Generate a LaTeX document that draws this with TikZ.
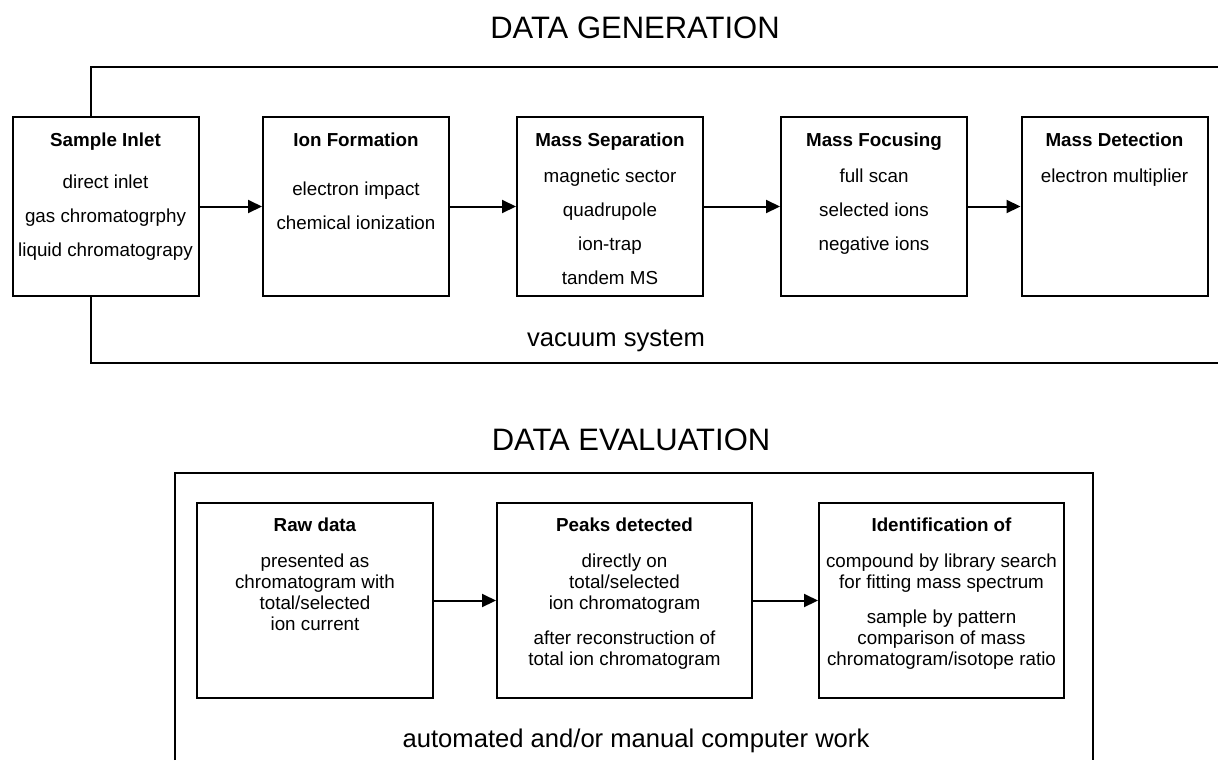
\documentclass[tikz,border=0pt]{standalone}
\usepackage{fontspec}
\setmainfont{Liberation Sans}
\usetikzlibrary{arrows.meta,positioning}

\begin{document}
\begin{tikzpicture}[x=0.5pt,y=-0.5pt,
  stage/.style={draw,line width=1pt,minimum width=93pt,minimum height=89.5pt,inner sep=0pt},
  stagetxt/.style={anchor=north,align=center,inner sep=0pt,font=\fontsize{9.4}{17}\selectfont},
  evalbox/.style={draw,line width=1pt,minimum height=97.5pt,inner sep=0pt},
  evaltxt/.style={anchor=north,align=center,inner sep=0pt,font=\fontsize{9.4}{10.5}\selectfont},
  flow/.style={-{Triangle[length=7pt,width=6.5pt]},line width=1pt}]
\useasboundingbox (0,0) rectangle (1218,760);
% data generation
\node[anchor=base,font=\fontsize{15.5}{18}\selectfont] (gen) at (635,38) {DATA GENERATION};
\node[stage] (inlet) at (105.5,206.5) {};
\node[stage] (ion) at (356,206.5) {};
\node[stage] (sep) at (610,206.5) {};
\node[stage] (focus) at (874,206.5) {};
\node[stage] (detect) at (1114.5,206.5) {};
\node[stagetxt] (inlet-txt) at ([yshift=-8pt]inlet.north) {\textbf{Sample Inlet}\\[4pt] direct inlet\\ gas chromatogrphy\\ liquid chromatograpy};
\node[stagetxt] (ion-txt) at ([yshift=-8pt]ion.north) {\textbf{Ion Formation}\\[7.5pt] electron impact\\ chemical ionization};
\node[stagetxt] (sep-txt) at ([yshift=-8pt]sep.north) {\textbf{Mass Separation}\\[1pt] magnetic sector\\ quadrupole\\ ion-trap\\ tandem MS};
\node[stagetxt] (focus-txt) at ([yshift=-8pt]focus.north) {\textbf{Mass Focusing}\\[1pt] full scan\\ selected ions\\ negative ions};
\node[stagetxt] (detect-txt) at ([yshift=-8pt]detect.north) {\textbf{Mass Detection}\\[1pt] electron multiplier};
\draw[flow] (inlet) -- (ion);
\draw[flow] (ion) -- (sep);
\draw[flow] (sep) -- (focus);
\draw[flow] (focus) -- (detect);
% vacuum system
\draw[line width=1pt] (91,117) |- (1218,67);
\draw[line width=1pt] (91,296) |- (1218,363);
\node[anchor=base,font=\fontsize{12.8}{15}\selectfont] (vac) at (616,346) {vacuum system};
% data evaluation
\node[anchor=base,font=\fontsize{15.5}{18}\selectfont] (eval) at (631,450) {DATA EVALUATION};
\draw[line width=1pt] (175,760) |- (1093,473) -- (1093,760);
\node[evalbox,minimum width=118pt] (raw) at (315,600.5) {};
\node[evalbox,minimum width=127.5pt] (peaks) at (624.5,600.5) {};
\node[evalbox,minimum width=122.5pt] (ident) at (941.5,600.5) {};
\node[evaltxt] (raw-txt) at ([yshift=-7.5pt]raw.north) {\textbf{Raw data}\\[7.5pt] presented as\\ chromatogram with\\ total/selected\\ ion current};
\node[evaltxt] (peaks-txt) at ([yshift=-7.5pt]peaks.north) {\textbf{Peaks detected}\\[7.5pt] directly on\\ total/selected\\ ion chromatogram\\[7pt] after reconstruction of\\ total ion chromatogram};
\node[evaltxt] (ident-txt) at ([yshift=-7.5pt]ident.north) {\textbf{Identification of}\\[7.5pt] compound by library search\\ for fitting mass spectrum\\[7pt] sample by pattern\\ comparison of mass\\ chromatogram/isotope ratio};
\draw[flow] (raw) -- (peaks);
\draw[flow] (peaks) -- (ident);
\node[anchor=base,font=\fontsize{12.8}{15}\selectfont] (work) at (636,747) {automated and/or manual computer work};
\end{tikzpicture}
\end{document}
